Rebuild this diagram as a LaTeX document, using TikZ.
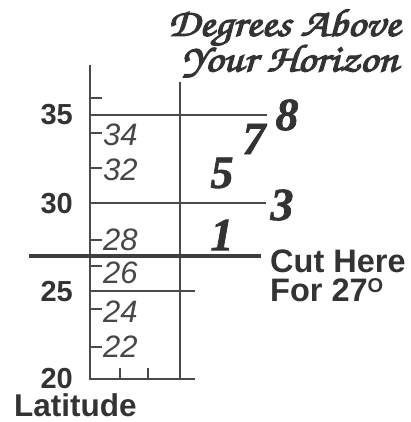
\documentclass[tikz,border=0pt]{standalone}
\usepackage[T1]{fontenc}
\usepackage{fontspec}
\usepackage{graphicx}
\setmainfont{Liberation Sans}
\newfontface\numface{Liberation Serif Bold Italic}[FakeBold=1.5]
\newcommand\chancery{\fontencoding{T1}\fontfamily{pzc}\fontseries{mb}\fontshape{it}\selectfont}
\newcommand\thickglyphs[1]{\scalebox{1.15}[1]{\special{pdf:literal direct 2 Tr 1.1 w}#1\special{pdf:literal direct 0 Tr 1 w}}}
\definecolor{tc}{HTML}{333333}
\definecolor{lc}{HTML}{4a4a4a}
\begin{document}
\begin{tikzpicture}[x=1pt,y=-1pt,
  ln/.style={draw=lc, line width=1.7pt},
  cutln/.style={draw=lc!85!black, line width=4.5pt},
  latlab/.style={anchor=east, inner sep=0pt, text=tc, font=\fontsize{29}{29}\selectfont\bfseries},
  ticklab/.style={anchor=west, inner sep=0pt, text=tc!90, font=\fontsize{31}{31}\selectfont\itshape},
  deg/.style={inner sep=0pt, text=tc, font=\numface\fontsize{46}{46}\selectfont},
  head/.style={inner sep=0pt, text=tc, font=\chancery\fontsize{39}{39}\selectfont},
  cut/.style={anchor=north west, inner sep=0pt, text=tc, align=left, font=\fontsize{32.5}{29}\selectfont\bfseries}]
\useasboundingbox (0,0) rectangle (410,422);
% axes
\coordinate (Ltop) at (90,65);
\coordinate (Lbot) at (90,379);
\coordinate (Rtop) at (180,82);
\coordinate (Rbot) at (180,379);
\coordinate (Bend) at (195,379);
\draw[ln] (Ltop) -- (Lbot) -- (Bend);
\draw[ln] (Rtop) -- (Rbot);
% bottom ticks
\foreach \x [count=\i] in {120,148} {
  \coordinate (bt\i a) at (\x,379);
  \coordinate (bt\i b) at (\x,368);
  \draw[ln] (bt\i a) -- (bt\i b);
}
% small ticks
\foreach \y [count=\i] in {98,133,168,240,266,309,347} {
  \coordinate (tk\i a) at (90,\y);
  \coordinate (tk\i b) at (102,\y);
  \draw[ln] (tk\i a) -- (tk\i b);
}
% long lines
\coordinate (l35a) at (90,115); \coordinate (l35b) at (267,115);
\coordinate (l30a) at (90,203); \coordinate (l30b) at (266,203);
\coordinate (l25a) at (90,291); \coordinate (l25b) at (195,291);
\draw[ln] (l35a) -- (l35b);
\draw[ln] (l30a) -- (l30b);
\draw[ln] (l25a) -- (l25b);
% cut line
\coordinate (cuta) at (29,256); \coordinate (cutb) at (261,256);
\draw[cutln] (cuta) -- (cutb);
% latitude labels
\node[latlab] (n35) at (73,115) {35};
\node[latlab] (n30) at (73,204) {30};
\node[latlab] (n25) at (73,292) {25};
\node[latlab] (n20) at (73,379) {20};
\node[latlab, anchor=west, font=\fontsize{31.5}{31.5}\selectfont\bfseries] (lat) at (14,405.5) {Latitude};
% tick labels
\node[ticklab] (t34) at (103,135) {34};
\node[ticklab] (t32) at (103,170) {32};
\node[ticklab] (t28) at (103,240) {28};
\node[ticklab] (t26) at (103,273) {26};
\node[ticklab] (t24) at (103,312) {24};
\node[ticklab] (t22) at (103,347) {22};
% degrees
\node[deg] (d8) at (287,115) {8};
\node[deg] (d7) at (254,139) {7};
\node[deg] (d5) at (222,173) {5};
\node[deg] (d3) at (282,205) {3};
\node[deg] (d1) at (222,235) {1};
% heading
\node[head] (h1) at (284,28) {\thickglyphs{Degrees Above}};
\node[head] (h2) at (290,61) {\thickglyphs{Your Horizon}};
% cut text
\node[cut] (c1) at (270,250) {Cut Here\\For 27\raisebox{0.3em}{\fontsize{20}{20}\selectfont O}};
\end{tikzpicture}
\end{document}
